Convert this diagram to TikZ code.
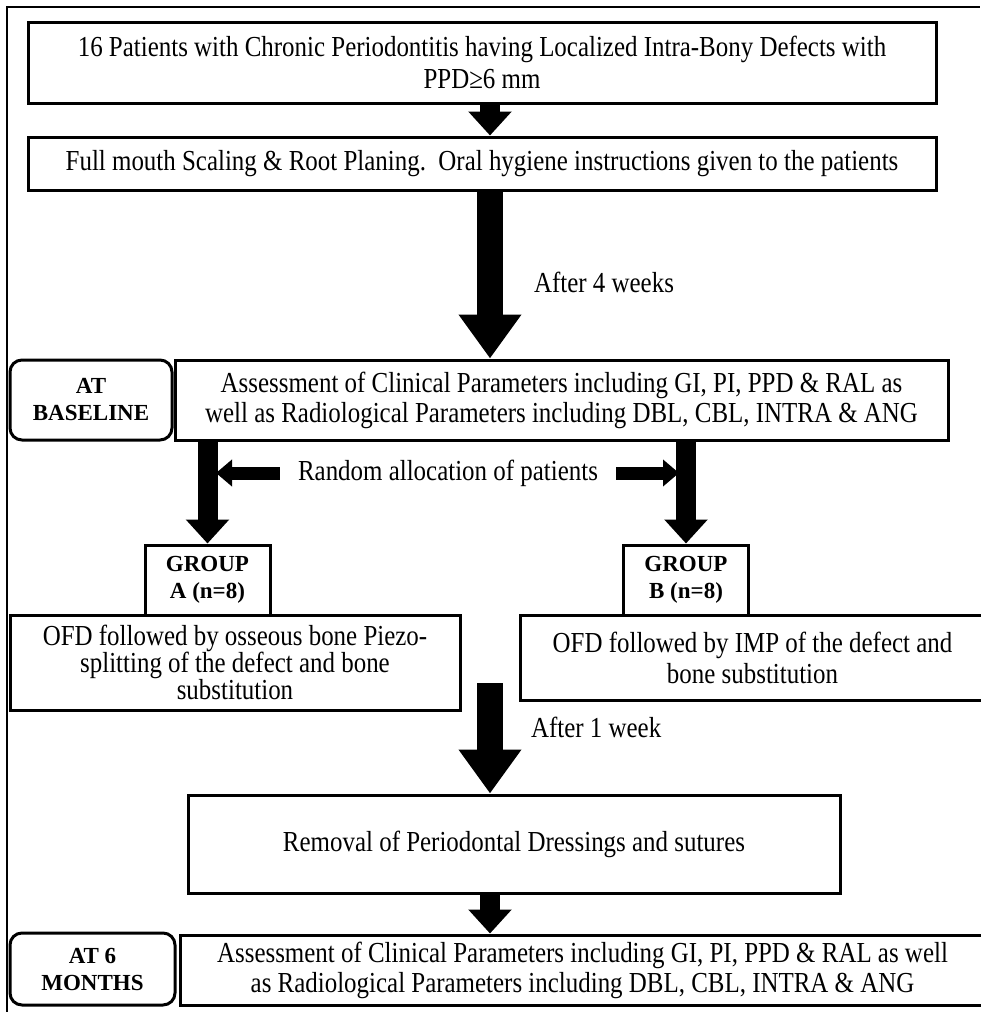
\documentclass[tikz,border=0pt]{standalone}
\usepackage{fontspec}
\setmainfont{Liberation Serif}
\newfontfamily\narrowserif[FakeStretch=0.86]{Liberation Serif}
\usetikzlibrary{arrows.meta,positioning}

\tikzset{
  block/.style={draw, line width=1.5pt, fill=white, align=center, inner sep=2pt,
    font=\narrowserif\fontsize{14.5}{16}\selectfont},
  tag/.style={block, rounded corners=6pt, font=\bfseries\fontsize{11.5}{13.5}\selectfont},
  grp/.style={block, font=\bfseries\fontsize{11.5}{13.5}\selectfont},
  fatarrow/.style={line width=10pt, -{Triangle[width=21pt,length=12pt]}},
  hugearrow/.style={line width=13pt, -{Triangle[width=30pt,length=22pt]}},
  sidearrow/.style={line width=6.5pt, -{Triangle[width=13pt,length=8pt]}},
  note/.style={font=\narrowserif\fontsize{14.5}{15}\selectfont}
}

\begin{document}
\begin{tikzpicture}[x=0.5pt,y=-0.5pt]
\useasboundingbox (0,0) rectangle (980,1012);
\draw[line width=0.8pt] (7,1012) -- (7,7) -- (980,7);

\node[block, minimum width=454pt, minimum height=40.5pt] (pat) at (482,62.5)
  {16 Patients with Chronic Periodontitis having Localized Intra-Bony Defects with\\PPD≥6 mm};
\node[block, minimum width=454pt, minimum height=26.5pt] (srp) at (482,163.5)
  {Full mouth Scaling \& Root Planing.\ \ Oral hygiene instructions given to the patients};

\node[tag, minimum width=81pt, minimum height=40pt] (base) at (91,400) {AT\\BASELINE};
\node[block, minimum width=386.5pt, minimum height=40pt,
  font=\narrowserif\fontsize{14.5}{15}\selectfont] (assA) at (561.5,400)
  {Assessment of Clinical Parameters including GI, PI, PPD \& RAL as\\well as Radiological Parameters including DBL, CBL, INTRA \& ANG};

\node[grp, minimum width=62.5pt, minimum height=35pt] (grpA) at (207.5,580) {GROUP\\A (n=8)};
\node[grp, minimum width=62.5pt, minimum height=35pt] (grpB) at (686,580) {GROUP\\B (n=8)};

\node[block, minimum width=225pt, minimum height=47.5pt,
  font=\narrowserif\fontsize{14.5}{13.5}\selectfont] (ofdA) at (235,662.5)
  {OFD followed by osseous bone Piezo-\\splitting of the defect and bone\\substitution};
\node[block, minimum width=232.5pt, minimum height=42.5pt,
  font=\narrowserif\fontsize{14.5}{15.5}\selectfont] (ofdB) at (752.5,657.5)
  {OFD followed by IMP of the defect and\\bone substitution};

\node[block, minimum width=326pt, minimum height=49pt] (rem) at (514,844)
  {Removal of Periodontal Dressings and sutures};

\node[tag, minimum width=82.5pt, minimum height=36pt] (six) at (92.5,969) {AT 6\\MONTHS};
\node[block, minimum width=402.5pt, minimum height=35pt,
  font=\narrowserif\fontsize{14.5}{15}\selectfont] (assB) at (582.5,970)
  {Assessment of Clinical Parameters including GI, PI, PPD \& RAL as well\\as Radiological Parameters including DBL, CBL, INTRA \& ANG};

% labels
\node[note, anchor=west] (wk4) at (527,282) {After 4 weeks};
\node[note, anchor=west] (wk1) at (524,727) {After 1 week};
\node[note, inner xsep=9pt] (rand) at (448,473) {Random allocation of patients};

\coordinate (mid) at (490,0);
\coordinate (tipA) at (216,473);
\coordinate (tipB) at (679,473);
\coordinate (top3) at (490,683);

% arrows
\draw[fatarrow] (pat.south -| mid) -- (srp.north -| mid);
\draw[hugearrow] (srp.south -| mid) -- (assA.north -| mid);
\draw[fatarrow] (assA.south -| grpA.north) -- (grpA.north);
\draw[fatarrow] (assA.south -| grpB.north) -- (grpB.north);
\draw[sidearrow] (rand.west) -- (tipA);
\draw[sidearrow] (rand.east) -- (tipB);
\draw[hugearrow] (top3) -- (top3 |- rem.north);
\draw[fatarrow] (rem.south -| mid) -- (assB.north -| mid);
\end{tikzpicture}
\end{document}
